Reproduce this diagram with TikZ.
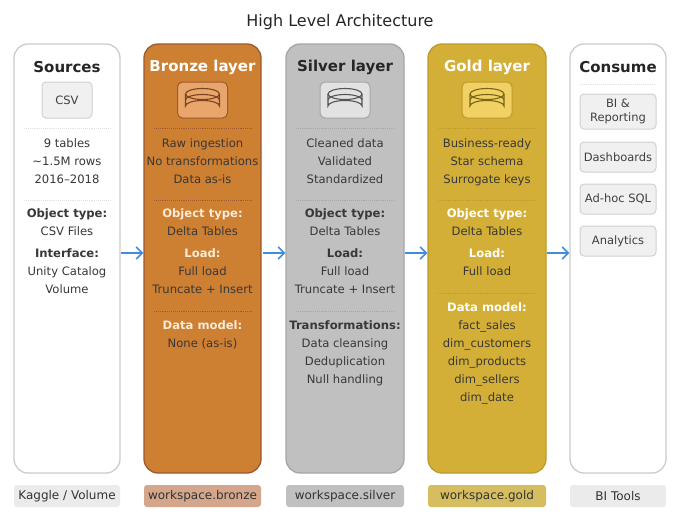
\documentclass[tikz,border=0pt]{standalone}
\usepackage{fontspec}
\setmainfont{DejaVu Sans}
\usetikzlibrary{arrows.meta}
\begin{document}
\begin{tikzpicture}[x=1pt,y=-1pt,
 col/.style={draw,rounded corners=14pt,line width=1.3pt},
 hd/.style={font=\fontsize{15}{17}\selectfont\bfseries},
 bd/.style={font=\fontsize{11.6}{18}\selectfont,align=center,text=black!78,anchor=north,inner sep=0pt},
 sep/.style={densely dotted,line width=0.9pt},
 box/.style={draw=black!18,fill=black!6,rounded corners=4pt,line width=1pt,font=\fontsize{11.5}{13.5}\selectfont,text=black!75,align=center,minimum width=76pt,inner sep=1pt},
 foot/.style={rounded corners=3pt,minimum height=22pt,font=\fontsize{12}{14}\selectfont,text=black!80,inner sep=0pt},
 arr/.style={-{Straight Barb[length=6pt,width=12pt,line width=1.6pt]},draw={rgb,255:red,66;green,140;blue,220},line width=1.8pt}]
\definecolor{bz}{HTML}{CD7F32}\definecolor{bzd}{HTML}{A0582C}\definecolor{bzi}{HTML}{E8A66C}\definecolor{bzl}{HTML}{7A4420}
\definecolor{sv}{HTML}{C0C0C0}\definecolor{svd}{HTML}{A6A6A6}\definecolor{svi}{HTML}{E2E2E2}\definecolor{svl}{HTML}{555555}
\definecolor{gd}{HTML}{D4AF37}\definecolor{gdd}{HTML}{BD9A2A}\definecolor{gdi}{HTML}{F1D163}\definecolor{gdl}{HTML}{7A6418}
\definecolor{lt}{HTML}{FBEBD8}
\fill[white] (0,0) rectangle (680,520);
\node[font=\fontsize{16}{18}\selectfont,text=black!85] (title) at (340,22) {High Level Architecture};
% columns
\node[col,draw=black!20,fill=white,minimum width=106pt,minimum height=429pt] (src) at (67,258.5) {};
\node[col,draw=bzd,fill=bz,minimum width=117pt,minimum height=429pt] (brz) at (202.5,258.5) {};
\node[col,draw=svd,fill=sv,minimum width=118pt,minimum height=429pt] (slv) at (345,258.5) {};
\node[col,draw=gdd,fill=gd,minimum width=118pt,minimum height=429pt] (gld) at (487,258.5) {};
\node[col,draw=black!20,fill=white,minimum width=96pt,minimum height=429pt] (con) at (618,258.5) {};
% headers
\node[hd,text=black!85] (h1) at (67,67) {Sources};
\node[hd,text=white] (h2) at (202.5,67) {Bronze layer};
\node[hd,text=black!85] (h3) at (345,67) {Silver layer};
\node[hd,text=white] (h4) at (487,67) {Gold layer};
\node[hd,text=black!85] (h5) at (618,67) {Consume};
% icons
\node[box,minimum width=50pt,minimum height=36pt] (csv) at (67,100) {CSV};
\foreach \n/\x/\f/\d/\l in {ib/202.5/bzi/bzd/bzl, is/345/svi/svd/svl, ig/487/gdi/gdd/gdl}{
 \node[draw=\d,fill=\f,rounded corners=5pt,minimum width=50pt,minimum height=36pt,line width=1pt] (\n) at (\x,100) {};
 \draw[\l,line width=1.1pt] (\x-17,94) -- (\x-17,106) arc[start angle=180,end angle=360,x radius=17,y radius=5.5] -- (\x+17,94);
 \draw[\l,line width=1.1pt] (\x,94) ellipse[x radius=17,y radius=5.5];
 \draw[\l,line width=1.1pt] (\x-17,100) arc[start angle=180,end angle=360,x radius=17,y radius=5.5];
}
% separators
\draw[sep,black!12] (24,128) -- (110,128); \draw[sep,black!12] (24,200) -- (110,200);
\draw[sep,bzd] (154,128) -- (251,128); \draw[sep,bzd] (154,200) -- (251,200); \draw[sep,bzd] (154,311) -- (251,311);
\draw[sep,svd] (296,128) -- (394,128); \draw[sep,svd] (296,200) -- (394,200); \draw[sep,svd] (296,311) -- (394,311);
\draw[sep,gdd] (438,128) -- (536,128); \draw[sep,gdd] (438,200) -- (536,200); \draw[sep,gdd] (438,293) -- (536,293);
\draw[sep,black!12] (580,84) -- (656,84);
% sources text
\node[bd] (s1) at (67,138) {9 tables\\\textasciitilde 1.5M rows\\2016–2018};
\node[bd] (s2) at (67,208) {\textbf{Object type:}\\CSV Files};
\node[bd] (s3) at (67,248) {\textbf{Interface:}\\Unity Catalog\\Volume};
% bronze
\node[bd] (b1) at (202.5,138) {Raw ingestion\\No transformations\\Data as-is};
\node[bd] (b2) at (202.5,208) {\textcolor{lt}{\textbf{Object type:}}\\Delta Tables};
\node[bd] (b3) at (202.5,248) {\textcolor{lt}{\textbf{Load:}}\\Full load\\Truncate + Insert};
\node[bd] (b4) at (202.5,320) {\textcolor{lt}{\textbf{Data model:}}\\None (as-is)};
% silver
\node[bd] (v1) at (345,138) {Cleaned data\\Validated\\Standardized};
\node[bd] (v2) at (345,208) {\textbf{Object type:}\\Delta Tables};
\node[bd] (v3) at (345,248) {\textbf{Load:}\\Full load\\Truncate + Insert};
\node[bd] (v4) at (345,320) {\textbf{Transformations:}\\Data cleansing\\Deduplication\\Null handling};
% gold
\node[bd] (g1) at (487,138) {Business-ready\\Star schema\\Surrogate keys};
\node[bd] (g2) at (487,208) {\textcolor{white}{\textbf{Object type:}}\\Delta Tables};
\node[bd] (g3) at (487,248) {\textcolor{white}{\textbf{Load:}}\\Full load};
\node[bd] (g4) at (487,302) {\textcolor{white}{\textbf{Data model:}}\\fact\_sales\\dim\_customers\\dim\_products\\dim\_sellers\\dim\_date};
% consume
\node[box,minimum height=35pt] (c1) at (618,111.5) {BI \&\\Reporting};
\node[box,minimum height=30pt] (c2) at (618,157) {Dashboards};
\node[box,minimum height=30pt] (c3) at (618,199) {Ad-hoc SQL};
\node[box,minimum height=30pt] (c4) at (618,241) {Analytics};
% arrows
\coordinate (a1) at (121,253); \coordinate (a2) at (263,253); \coordinate (a3) at (405,253); \coordinate (a4) at (547,253);
\draw[arr] (a1) -- (brz.west|-a1);
\draw[arr] (a2) -- (slv.west|-a2);
\draw[arr] (a3) -- (gld.west|-a3);
\draw[arr] (a4) -- (con.west|-a4);
% footers
\node[foot,fill=black!8,minimum width=106pt] (f1) at (67,496) {Kaggle / Volume};
\node[foot,fill={rgb,255:red,212;green,166;blue,140},minimum width=117pt] (f2) at (202.5,496) {workspace.bronze};
\node[foot,fill=sv,minimum width=118pt] (f3) at (345,496) {workspace.silver};
\node[foot,fill={rgb,255:red,214;green,190;blue,96},minimum width=118pt] (f4) at (487,496) {workspace.gold};
\node[foot,fill=black!8,minimum width=96pt] (f5) at (618,496) {BI Tools};
\end{tikzpicture}
\end{document}
